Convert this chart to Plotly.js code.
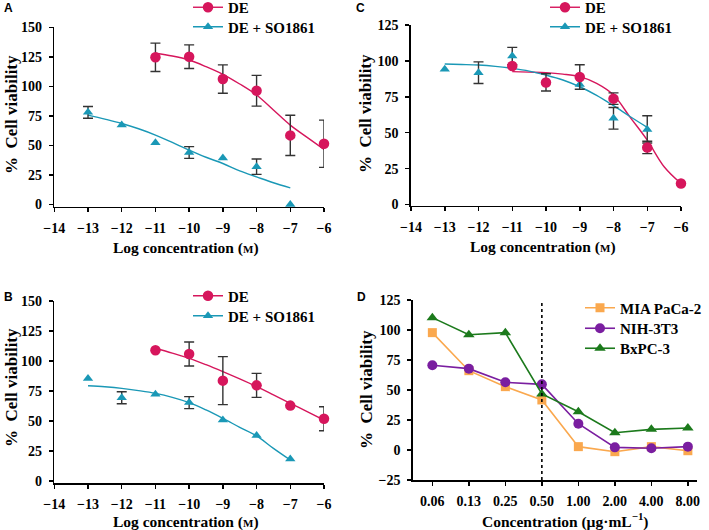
<!DOCTYPE html>
<html>
<head>
<meta charset="utf-8">
<script src="https://cdn.plot.ly/plotly-3.0.1.min.js"></script>
<style>html,body{margin:0;padding:0;background:#fff;}#chart{width:709px;height:530px;}</style>
</head>
<body>
<div id="chart"></div>
<script>
// ---------- DATA ----------
// Panel A
const aDeX = [-11, -10, -9, -8, -7, -6];
const aDeY = [124.6, 125.1, 106.2, 96.3, 58.5, 51.4];
const aDeErr = [12, 10, 12, 13, 17, 20];
const aSoX = [-13, -12, -11, -10, -9, -8, -7];
const aSoY = [78, 67.2, 52.3, 44, 39.3, 32, 0];
const aSoErr = [5, null, null, 5, null, 6.5, null];
const aDeFitX = [-11, -10.5, -10, -9.5, -9, -8.5, -8, -7.5, -7, -6.5, -6];
const aDeFitY = [128, 125.7, 122.3, 116.7, 110.2, 102, 92.7, 80, 67.2, 56.8, 46.6];
const aSoFitX = [-13, -12.5, -12, -11.5, -11, -10.5, -10, -9.5, -9, -8.5, -8, -7.5, -7];
const aSoFitY = [75.7, 72.3, 68.6, 64.1, 58.8, 52.5, 46, 40, 34.7, 28.5, 23.4, 18.4, 14.1];

// Panel B
const bDeX = [-11, -10, -9, -8, -7, -6];
const bDeY = [108.9, 105.8, 83.6, 79.7, 62.8, 51.9];
const bDeErr = [null, 10, 20, 10, null, 10];
const bSoX = [-13, -12, -11, -10, -9, -8, -7];
const bSoY = [85.3, 69.4, 72.2, 65.3, 50.8, 37.8, 18.3];
const bSoErr = [null, 5, null, 5, null, null, null];
const bDeFitX = [-11, -10.5, -10, -9.5, -9, -8.5, -8, -7.5, -7, -6.5, -6];
const bDeFitY = [110.6, 106.5, 102.2, 96.9, 91.1, 85, 78.6, 71.7, 64.7, 57.8, 50.8];
const bSoFitX = [-13, -12.5, -12, -11.5, -11, -10.5, -10, -9.5, -9, -8.5, -8, -7.5, -7];
const bSoFitY = [79.4, 78.5, 77.2, 75.3, 73, 69.7, 65.3, 59.2, 52.2, 44.7, 37.5, 27.2, 17.5];

// Panel C
const cDeX = [-11, -10, -9, -8, -7, -6];
const cDeY = [96.4, 85, 88.8, 73.7, 39.7, 14.6];
const cDeErr = [null, 6, 8.5, 4, 4.3, null];
const cSoX = [-13, -12, -11, -9, -8, -7];
const cSoY = [94.1, 91.8, 103.4, 83.6, 60, 52.3];
const cSoErr = [null, 7.5, 6, null, 7.5, 9.5];
const cDeFitX = [-11, -10.5, -10, -9.5, -9, -8.5, -8, -7.5, -7, -6.5, -6];
const cDeFitY = [92.5, 92.2, 91.8, 90.8, 89, 84.3, 76.2, 60.5, 44.8, 26.3, 14.6];
const cSoFitX = [-13, -12.5, -12, -11.5, -11, -10.5, -10, -9.5, -9, -8.5, -8, -7.5, -7];
const cSoFitY = [97.8, 97.5, 97.1, 96.2, 94.8, 92.9, 90.1, 86.7, 82, 76, 68.8, 61.1, 53.7];

// Panel D
const dCategories = ['0.06', '0.13', '0.25', '0.50', '1.00', '2.00', '4.00', '8.00'];
const dMia = [97.8, 66.1, 52.8, 41.7, 2.8, -1.4, 2.8, -0.6];
const dNih = [70.6, 67.8, 56.4, 54.7, 21.9, 2.2, 1.4, 2.8];
const dBx = [110.3, 96.1, 97.8, 46.7, 31.9, 14.4, 17.2, 18.3];
const dThreshold = '0.50';

const logTicks = [-14, -13, -12, -11, -10, -9, -8, -7, -6];

// ---------- STYLE ----------
const DE_COLOR = 'rgb(214,22,92)';
const SO_COLOR = 'rgb(26,152,182)';
const ERR_COLOR = '#333';
const SERIF = 'Liberation Serif, Times New Roman, serif';
const W = 709, H = 530;
const px = v => v / W;
const py = v => 1 - v / H;

function pair(xa, ya, legDe, legSo, deX, deY, deErr, deFX, deFY, soX, soY, soErr, soFX, soFY) {
  const err = arr => ({type: 'data', array: arr.map(v => v === null ? NaN : v), visible: true,
                       color: ERR_COLOR, thickness: 1.4, width: 5});
  return [
    {x: deFX, y: deFY, xaxis: xa, yaxis: ya, mode: 'lines', line: {color: DE_COLOR, width: 1.4, shape: 'spline'},
     showlegend: false, hoverinfo: 'skip', cliponaxis: false},
    {x: soFX, y: soFY, xaxis: xa, yaxis: ya, mode: 'lines', line: {color: SO_COLOR, width: 1.4, shape: 'spline'},
     showlegend: false, hoverinfo: 'skip', cliponaxis: false},
    {x: soX, y: soY, xaxis: xa, yaxis: ya, mode: 'markers', error_y: err(soErr),
     marker: {symbol: 'triangle-up', size: 9, color: SO_COLOR}, showlegend: false, cliponaxis: false},
    {x: deX, y: deY, xaxis: xa, yaxis: ya, mode: 'markers', error_y: err(deErr),
     marker: {symbol: 'circle', size: 10.5, color: DE_COLOR}, showlegend: false, cliponaxis: false},
    {x: [null], y: [null], xaxis: xa, yaxis: ya, mode: 'lines+markers', name: 'DE', legend: legDe,
     line: {color: DE_COLOR, width: 1.4}, marker: {symbol: 'circle', size: 10.5, color: DE_COLOR}},
    {x: [null], y: [null], xaxis: xa, yaxis: ya, mode: 'lines+markers', name: 'DE + SO1861', legend: legSo,
     line: {color: SO_COLOR, width: 1.4}, marker: {symbol: 'triangle-up', size: 9, color: SO_COLOR}}
  ];
}

const traces = [].concat(
  pair('x', 'y', 'legend', 'legend2', aDeX, aDeY, aDeErr, aDeFitX, aDeFitY, aSoX, aSoY, aSoErr, aSoFitX, aSoFitY),
  pair('x2', 'y2', 'legend3', 'legend4', cDeX, cDeY, cDeErr, cDeFitX, cDeFitY, cSoX, cSoY, cSoErr, cSoFitX, cSoFitY),
  pair('x3', 'y3', 'legend5', 'legend6', bDeX, bDeY, bDeErr, bDeFitX, bDeFitY, bSoX, bSoY, bSoErr, bSoFitX, bSoFitY),
  [
    {x: dCategories, y: dMia, xaxis: 'x4', yaxis: 'y4', mode: 'lines+markers', name: 'MIA PaCa-2', legend: 'legend7',
     line: {color: 'rgb(250,168,78)', width: 1.6}, marker: {symbol: 'square', size: 9, color: 'rgb(250,168,78)'}, cliponaxis: false},
    {x: dCategories, y: dNih, xaxis: 'x4', yaxis: 'y4', mode: 'lines+markers', name: 'NIH-3T3', legend: 'legend8',
     line: {color: 'rgb(122,30,160)', width: 1.6}, marker: {symbol: 'circle', size: 10, color: 'rgb(122,30,160)'}, cliponaxis: false},
    {x: dCategories, y: dBx, xaxis: 'x4', yaxis: 'y4', mode: 'lines+markers', name: 'BxPC-3', legend: 'legend9',
     line: {color: 'rgb(28,122,28)', width: 1.6}, marker: {symbol: 'triangle-up', size: 10, color: 'rgb(28,122,28)'}, cliponaxis: false}
  ]
);

const tickFont = {family: SERIF, size: 14, color: '#000', weight: 'bold'};
function xLog(domain, anchor) {
  return {domain: domain, anchor: anchor, range: [-14, -6], tickvals: logTicks, showgrid: false, zeroline: false,
          showline: true, linecolor: '#000', linewidth: 1.6, ticks: 'outside', ticklen: 4, tickwidth: 1.5,
          tickcolor: '#000', tickfont: tickFont, ticklabelstandoff: 4, fixedrange: true};
}
function yAx(domain, anchor, range, top) {
  const vals = [];
  for (let v = range[0] < 0 ? 0 : range[0]; v <= top; v += 25) vals.push(v);
  return {domain: domain, anchor: anchor, range: range, tickvals: vals, showgrid: false, zeroline: false,
          showline: true, linecolor: '#000', linewidth: 1.6, ticks: 'outside', ticklen: 4, tickwidth: 1.5,
          tickcolor: '#000', tickfont: tickFont, ticklabelstandoff: 4, fixedrange: true};
}

const legFont = {family: SERIF, size: 15, color: '#000', weight: 'bold'};
function leg(x, yCenter) {
  return {x: px(x), y: py(yCenter), xanchor: 'left', yanchor: 'middle', font: legFont, bgcolor: 'rgba(0,0,0,0)',
          itemwidth: 30, tracegroupgap: 0, traceorder: 'normal'};
}

const titleFont = {family: SERIF, size: 15.5, color: '#000', weight: 'bold'};
const yTitleFont = {family: SERIF, size: 17, color: '#000', weight: 'bold'};
function ann(text, x, y, angle, font) {
  return {text: text, xref: 'paper', yref: 'paper', x: px(x), y: py(y), xanchor: 'center', yanchor: 'middle',
          showarrow: false, textangle: angle || 0, font: font || titleFont};
}
const letterFont = {family: 'Liberation Sans, Arial, sans-serif', size: 12, color: '#000', weight: 'bold'};
const xTitle = 'Log concentration (<span style="font-size:11px">M</span>)';
const yTitle = '%\u00a0\u00a0Cell viability';

const layout = {
  width: W, height: H,
  margin: {l: 0, r: 0, t: 0, b: 0, autoexpand: false},
  paper_bgcolor: '#fff', plot_bgcolor: 'rgba(0,0,0,0)',
  showlegend: true,
  xaxis: xLog([px(54.3), px(324)], 'y'),
  yaxis: yAx([py(206.5), py(27.3)], 'x', [-1.7, 150], 150),
  xaxis2: xLog([px(411), px(681)], 'y2'),
  yaxis2: yAx([py(205.5), py(25)], 'x2', [-0.7, 125], 125),
  xaxis3: xLog([px(54.3), px(324)], 'y3'),
  yaxis3: yAx([py(483), py(301)], 'x3', [-1.7, 150], 150),
  xaxis4: {domain: [px(413), px(697)], anchor: 'y4', type: 'category', categoryorder: 'array', categoryarray: dCategories,
           range: [-0.53, 7.25], showgrid: false, zeroline: false, showline: true, linecolor: '#000', linewidth: 1.6,
           ticks: 'outside', ticklen: 4, tickwidth: 1.5, tickcolor: '#000', tickfont: tickFont, ticklabelstandoff: 4, fixedrange: true},
  yaxis4: Object.assign(yAx([py(480), py(300)], 'x4', [-25, 125], 125), {tickvals: [-25, 0, 25, 50, 75, 100, 125]}),
  legend: leg(188, 7.5),
  legend2: leg(188, 27),
  legend3: leg(545, 7.5),
  legend4: leg(545, 27),
  legend5: leg(188, 296),
  legend6: leg(188, 316),
  legend7: leg(580, 308),
  legend8: leg(580, 328.5),
  legend9: leg(580, 348.5),
  shapes: [
    {type: 'line', xref: 'x4', yref: 'y4', x0: dCategories.indexOf(dThreshold), x1: dCategories.indexOf(dThreshold),
     y0: -25, y1: 125, line: {color: '#000', width: 1.6, dash: 'dot'}}
  ],
  annotations: [
    ann('A', 8, 8, 0, letterFont), ann('C', 360, 8, 0, letterFont),
    ann('B', 8, 297, 0, letterFont), ann('D', 361.5, 297, 0, letterFont),
    ann(xTitle, 186, 248), ann(xTitle, 543, 247), ann(xTitle, 186, 522),
    ann('Concentration (µg·mL<sup>−1</sup>)', 565, 520),
    ann(yTitle, 11, 115, -90, yTitleFont), ann(yTitle, 366, 114, -90, yTitleFont),
    ann(yTitle, 11, 388, -90, yTitleFont), ann(yTitle, 366, 390, -90, yTitleFont)
  ]
};

Plotly.newPlot('chart', traces, layout, {staticPlot: true, displayModeBar: false});
</script>
</body>
</html>
